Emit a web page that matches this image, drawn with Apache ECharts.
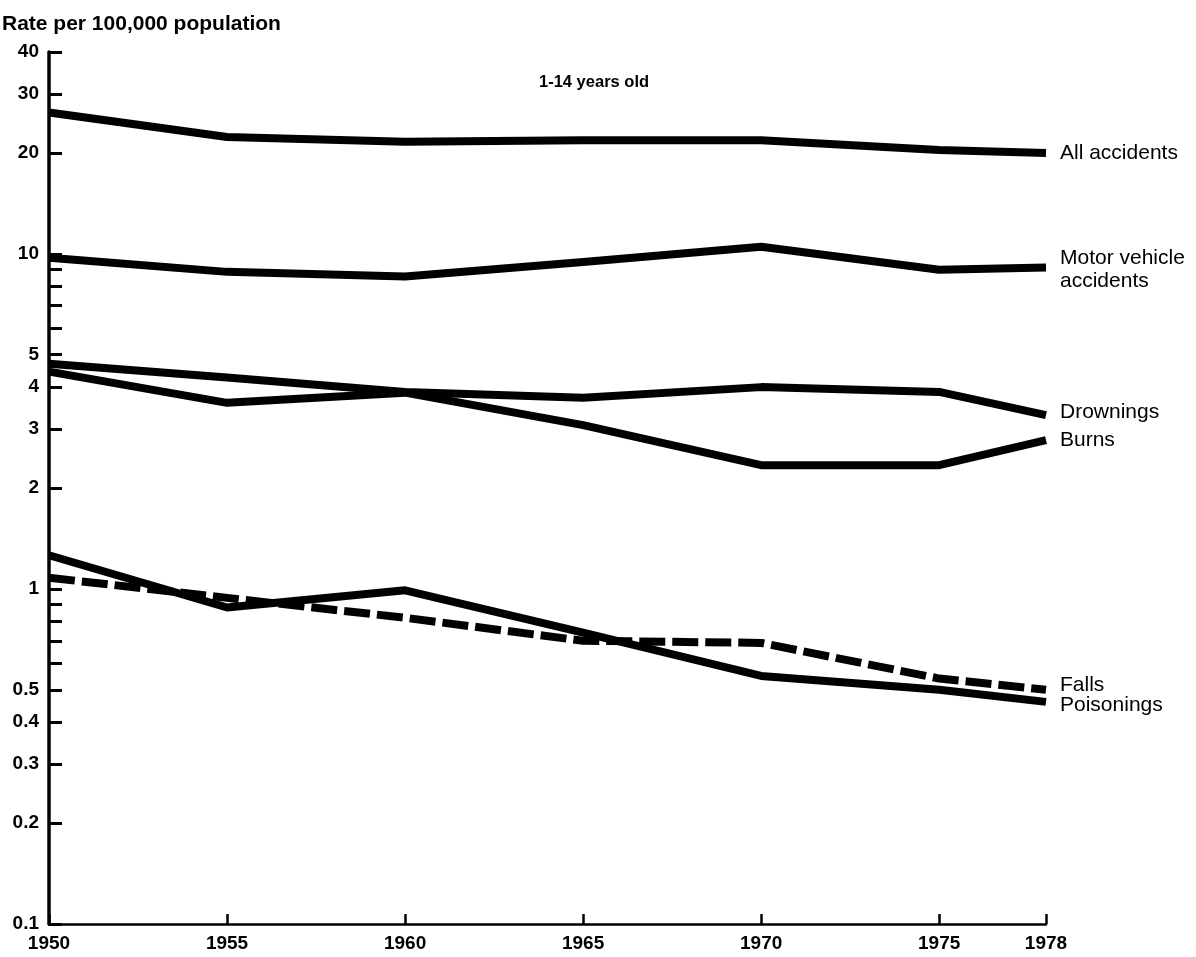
<!DOCTYPE html>
<html>
<head>
<meta charset="utf-8">
<script src="https://cdn.jsdelivr.net/npm/echarts@6/dist/echarts.min.js"></script>
<style>
html,body{margin:0;padding:0;background:#fff;}
#chart{width:1196px;height:957px;}
</style>
</head>
<body>
<div id="chart"></div>
<script>
// ---- data ----
const years = [1950, 1955, 1960, 1965, 1970, 1975, 1978];
const allAccidents = [26.4, 22.3, 21.6, 21.8, 21.8, 20.4, 20.0];
const motorVehicle = [9.73, 8.83, 8.55, 9.45, 10.5, 8.96, 9.1];
const drownings = [4.7, 4.27, 3.87, 3.72, 4.0, 3.87, 3.3];
const burns = [4.45, 3.59, 3.85, 3.08, 2.34, 2.34, 2.78];
const falls = [1.08, 0.94, 0.82, 0.70, 0.69, 0.54, 0.50];
const poisonings = [1.26, 0.88, 0.99, 0.74, 0.55, 0.50, 0.46];

const xTickLabels = [1950, 1955, 1960, 1965, 1970, 1975, 1978];
const yTickLabels = [0.1, 0.2, 0.3, 0.4, 0.5, 1, 2, 3, 4, 5, 10, 20, 30, 40];
const yMinorTicks = [0.6, 0.7, 0.8, 0.9, 6, 7, 8, 9];

const seriesNames = ['All accidents', 'Motor vehicle\naccidents', 'Drownings', 'Burns', 'Falls', 'Poisonings'];
const seriesValues = [allAccidents, motorVehicle, drownings, burns, falls, poisonings];
const labelOffsets = [[0, 0], [0, 2], [0, -3], [0, 0], [0, -5], [0, 3]];

const FONT = '"Liberation Sans", Arial, Helvetica, sans-serif';

const series = seriesNames.map((name, i) => ({
  name: name,
  type: 'line',
  symbol: 'none',
  smooth: false,
  data: years.map((y, k) => [y, seriesValues[i][k]]),
  lineStyle: {
    color: '#000',
    width: 8,
    type: name === 'Falls' ? [26, 7] : 'solid',
    cap: 'butt',
    join: 'round'
  },
  endLabel: {
    show: true,
    formatter: name,
    color: '#000',
    fontFamily: FONT,
    fontSize: 21,
    lineHeight: 23,
    distance: 14,
    offset: labelOffsets[i]
  },
  emphasis: { disabled: true },
  z: name === 'Falls' ? 3 : 2
}));

const chart = echarts.init(document.getElementById('chart'), null, { renderer: 'canvas' });
chart.setOption({
  animation: false,
  backgroundColor: '#fff',
  title: [
    {
      text: 'Rate per 100,000 population',
      left: 2, top: 14, padding: 0,
      textStyle: { fontFamily: FONT, fontSize: 21, fontWeight: 'bold', color: '#000' }
    },
    {
      text: '1-14 years old',
      left: 539, top: 74, padding: 0,
      textStyle: { fontFamily: FONT, fontSize: 16.5, fontWeight: 'bold', color: '#000' }
    }
  ],
  grid: { left: 49, right: 150, top: 52, bottom: 33, containLabel: false },
  xAxis: {
    type: 'value',
    min: 1950, max: 1978,
    splitLine: { show: false },
    axisLine: { show: true, lineStyle: { color: '#000', width: 2.5 } },
    axisTick: { show: true, inside: true, length: 10, lineStyle: { color: '#000', width: 2.5 }, customValues: xTickLabels },
    axisLabel: {
      customValues: xTickLabels,
      formatter: v => String(Math.round(v)),
      color: '#000', fontFamily: FONT, fontSize: 19, fontWeight: 'bold', margin: 10
    }
  },
  yAxis: {
    type: 'log',
    logBase: 10,
    min: 0.1, max: 40,
    splitLine: { show: false },
    axisLine: { show: true, lineStyle: { color: '#000', width: 3.5 } },
    axisTick: { show: true, inside: true, length: 13, lineStyle: { color: '#000', width: 3 }, customValues: yTickLabels.concat(yMinorTicks) },
    axisLabel: {
      customValues: yTickLabels,
      formatter: v => String(parseFloat(v.toPrecision(3))),
      color: '#000', fontFamily: FONT, fontSize: 19, fontWeight: 'bold', margin: 10
    }
  },
  series: series
});
</script>
</body>
</html>
